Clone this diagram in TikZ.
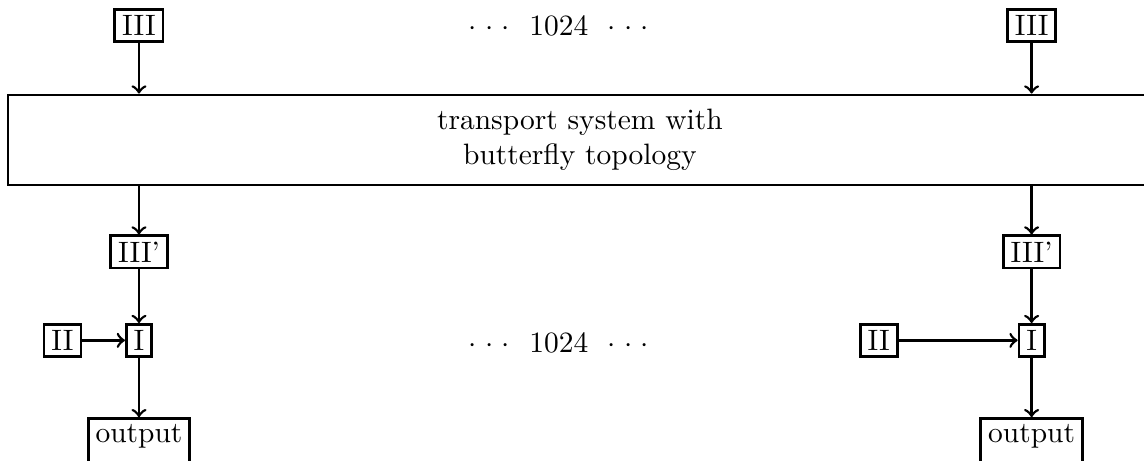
\documentclass[tikz,border=0pt]{standalone}
\usetikzlibrary{positioning}

\newcommand{\manydots}{${\cdot}\;{\cdot}\;{\cdot}$\ \ 1024\ \ ${\cdot}\;{\cdot}\;{\cdot}$}

\begin{document}
\begin{tikzpicture}[
    line width=0.9pt,
    block/.style={rectangle, draw, inner xsep=2.5pt, inner ysep=2pt},
    sink/.style={block, text depth=6pt},
    arrow/.style={->}
]
    \useasboundingbox (0,0) rectangle (13.64,-5.49);

    % inputs
    \node[block] (inL) at (1.657,-0.304) {III};
    \node[block] (inR) at (12.30,-0.304) {III};
    \node (dotsTop) at (6.663,-0.31) {\manydots};

    \node[block, minimum width=13.64cm, minimum height=1.073cm, align=center] (net) at (6.914,-1.668) {transport system with\\butterfly topology};

    % left column
    \node[block] (primeL) at (1.657,-3.004) {III'};
    \node[block, below=0.64cm of primeL] (midL) {I};
    \node[block, left=0.51cm of midL] (sideL) {II};
    \node[sink, below=0.71cm of midL] (outL) {output};

    % right column
    \node[block] (primeR) at (12.30,-3.004) {III'};
    \node[block, below=0.64cm of primeR] (midR) {I};
    \node[block, left=1.42cm of midR] (sideR) {II};
    \node[sink, below=0.71cm of midR] (outR) {output};

    \node (dotsBot) at (6.663,-4.09) {\manydots};

    \draw[arrow] (inL) -- (inL |- net.north);
    \draw[arrow] (inR) -- (inR |- net.north);
    \draw[arrow] (net.south -| primeL) -- (primeL);
    \draw[arrow] (net.south -| primeR) -- (primeR);
    \draw[arrow] (primeL) -- (midL);
    \draw[arrow] (primeR) -- (midR);
    \draw[arrow] (sideL) -- (midL);
    \draw[arrow] (sideR) -- (midR);
    \draw[arrow] (midL) -- (outL);
    \draw[arrow] (midR) -- (outR);
\end{tikzpicture}
\end{document}
